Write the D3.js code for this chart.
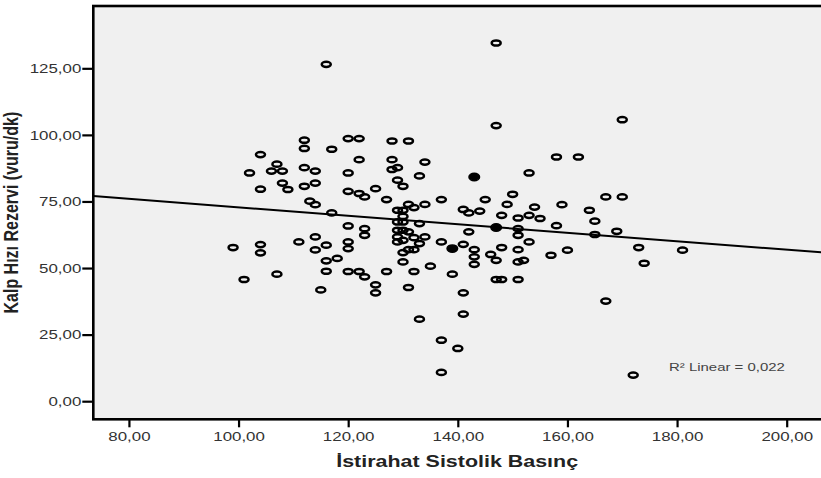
<!DOCTYPE html>
<html>
<head>
<meta charset="utf-8">
<script src="https://cdn.jsdelivr.net/npm/d3@7"></script>
<style>
  body { margin: 0; background: #fff; }
  text { font-family: "Liberation Sans", Arial, sans-serif; }
</style>
</head>
<body>
<svg id="chart" width="821" height="478"></svg>
<script>
// resting systolic pressure (x) and heart rate reserve (y)
const sbp = [
  99, 101, 102, 104, 104, 104, 104, 106, 107, 108, 108, 109, 107, 111, 112, 112,
  112, 112, 114, 114, 113, 114, 114, 114, 115, 116, 116, 116, 116, 117, 117, 118,
  120, 122, 128, 131, 122, 128, 134, 120, 128, 129, 133, 129, 130, 125, 120, 122,
  123, 127, 129, 131, 132, 134, 130, 130, 129, 130, 133, 120, 123, 123, 129, 130,
  129, 131, 130, 132, 134, 129, 133, 120, 120, 131, 132, 130, 130, 125, 125,
  131, 133, 137, 140, 137, 141, 141, 139, 135, 132, 127, 123, 122, 120, 137, 145,
  150, 149, 154, 159, 141, 142, 144, 148, 151, 153, 155, 151, 151, 158, 142, 137,
  141, 143, 143, 143, 146, 147, 148, 151, 153, 152, 151, 157, 147, 148, 151, 147,
  147, 153, 158, 162, 170, 167, 170, 164, 165, 165, 169, 173, 174, 160, 181, 167,
  172
];
const hrr = [
  57.7, 45.7, 85.7, 92.6, 79.6, 58.8, 55.7, 86.4, 89.0, 86.4, 81.9, 79.5, 47.7, 59.8, 98.0, 94.9,
  87.7, 80.7, 86.4, 81.9, 75.1, 73.8, 61.7, 56.8, 41.8, 58.6, 52.7, 48.8, 126.5, 94.6, 70.7, 53.6,
  98.6, 98.6, 97.7, 97.7, 90.7, 90.7, 89.8, 85.7, 87.0, 87.7, 84.6, 83.0, 80.7, 79.8, 78.8, 78.0,
  76.7, 75.7, 71.7, 73.9, 72.7, 73.9, 71.7, 69.4, 67.3, 67.3, 66.7, 65.8, 64.8, 62.3, 64.2, 64.2,
  61.7, 63.6, 60.4, 61.4, 61.7, 59.8, 59.2, 59.8, 57.3, 56.9, 56.9, 55.8, 52.3, 43.7, 40.7,
  42.7, 30.8, 22.9, 19.8, 10.8, 40.7, 32.7, 47.7, 50.7, 48.7, 48.7, 46.7, 48.7, 48.7, 75.7, 75.7,
  77.7, 73.9, 72.9, 73.8, 72.0, 70.7, 71.4, 69.8, 68.8, 69.8, 68.6, 64.8, 62.3, 65.9, 63.6, 59.8,
  58.9, 56.9, 54.2, 51.4, 55.1, 52.9, 57.7, 56.9, 59.8, 52.9, 52.3, 54.8, 45.7, 45.7, 45.7, 134.5,
  103.5, 85.7, 91.7, 91.7, 105.7, 76.7, 76.7, 71.7, 67.6, 62.6, 63.8, 57.7, 51.8, 56.7, 56.7, 37.6,
  9.8
];
// overlapping cases (SPSS draws these as solid markers)
const sbpOverlap = [143, 147, 139];
const hrrOverlap = [84.2, 65.2, 57.3];

const xTicks = [80, 100, 120, 140, 160, 180, 200];
const yTicks = [0, 25, 50, 75, 100, 125];

// linear fit as printed on the chart
const fitIntercept = 88.7;
const fitSlope = -0.159;
const r2Label = "R\u00B2 Linear = 0,022";

const xTitle = "\u0130stirahat Sistolik Bas\u0131n\u00E7";
const yTitle = "Kalp H\u0131z\u0131 Rezervi (vuru/dk)";

// the source picture is stretched sideways, so text is too
const stretch = 1.3;

const svg = d3.select("#chart");
const frame = { left: 93.3, top: 6, right: 830, bottom: 419.3 };

const x = d3.scaleLinear().domain([73.5, 207.9]).range([frame.left, frame.right]);
const y = d3.scaleLinear().domain([-6.8, 148.4]).range([frame.bottom, frame.top]);

const fmt = v => d3.format(".2f")(v).replace(".", ",");

// plot background
svg.append("rect")
  .attr("x", frame.left)
  .attr("y", frame.top)
  .attr("width", frame.right - frame.left)
  .attr("height", frame.bottom - frame.top)
  .attr("fill", "#f0f0f0");

// axes
const yAxis = svg.append("g")
  .attr("transform", `translate(${frame.left},0)`)
  .call(d3.axisLeft(y).tickValues(yTicks).tickFormat(fmt).tickSize(11).tickSizeOuter(0).tickPadding(1));
yAxis.select(".domain").remove();
yAxis.selectAll(".tick line").attr("stroke", "#000").attr("stroke-width", 2.2);
yAxis.selectAll(".tick text")
  .attr("x", -12 / stretch)
  .attr("transform", `scale(${stretch},1)`)
  .attr("font-size", 13)
  .attr("fill", "#333");

const xAxis = svg.append("g")
  .attr("transform", `translate(0,${frame.bottom})`)
  .call(d3.axisBottom(x).tickValues(xTicks).tickFormat(fmt).tickSize(8).tickSizeOuter(0).tickPadding(4));
xAxis.select(".domain").remove();
xAxis.selectAll(".tick line").attr("stroke", "#000").attr("stroke-width", 2.2);
xAxis.selectAll(".tick text")
  .attr("transform", `scale(${stretch},1)`)
  .attr("font-size", 13)
  .attr("fill", "#333");

// fit line
const [x0, x1] = x.domain();
svg.append("line")
  .attr("x1", x(x0))
  .attr("y1", y(fitIntercept + fitSlope * x0))
  .attr("x2", x(x1))
  .attr("y2", y(fitIntercept + fitSlope * x1))
  .attr("stroke", "#000")
  .attr("stroke-width", 2);

// points
const pts = sbp.map((v, i) => ({ x: v, y: hrr[i] }));
svg.append("g")
  .selectAll("ellipse")
  .data(pts)
  .join("ellipse")
  .attr("cx", d => x(d.x))
  .attr("cy", d => y(d.y))
  .attr("rx", 4.5)
  .attr("ry", 2.6)
  .attr("fill", "none")
  .attr("stroke", "#000")
  .attr("stroke-width", 2.5);

const dup = sbpOverlap.map((v, i) => ({ x: v, y: hrrOverlap[i] }));
svg.append("g")
  .selectAll("ellipse")
  .data(dup)
  .join("ellipse")
  .attr("cx", d => x(d.x))
  .attr("cy", d => y(d.y))
  .attr("rx", 5.3)
  .attr("ry", 3.7)
  .attr("fill", "#000")
  .attr("stroke", "#000")
  .attr("stroke-width", 1.5);

// frame on top
svg.append("rect")
  .attr("x", frame.left)
  .attr("y", frame.top)
  .attr("width", frame.right - frame.left)
  .attr("height", frame.bottom - frame.top)
  .attr("fill", "none")
  .attr("stroke", "#000")
  .attr("stroke-width", 2.6);

// r-squared note
svg.append("text")
  .attr("transform", `translate(669,371) scale(${stretch},1)`)
  .attr("font-size", 11.5)
  .attr("fill", "#444")
  .text(r2Label);

// titles
svg.append("text")
  .attr("transform", `translate(${(frame.left + 821) / 2},467) scale(${stretch},1)`)
  .attr("text-anchor", "middle")
  .attr("font-size", 16.5)
  .attr("font-weight", "bold")
  .attr("fill", "#222")
  .text(xTitle);

svg.append("text")
  .attr("transform", `translate(18,${(frame.top + frame.bottom) / 2}) scale(${stretch},1) rotate(-90)`)
  .attr("text-anchor", "middle")
  .attr("font-size", 16)
  .attr("font-weight", "bold")
  .attr("fill", "#222")
  .text(yTitle);
</script>
</body>
</html>
